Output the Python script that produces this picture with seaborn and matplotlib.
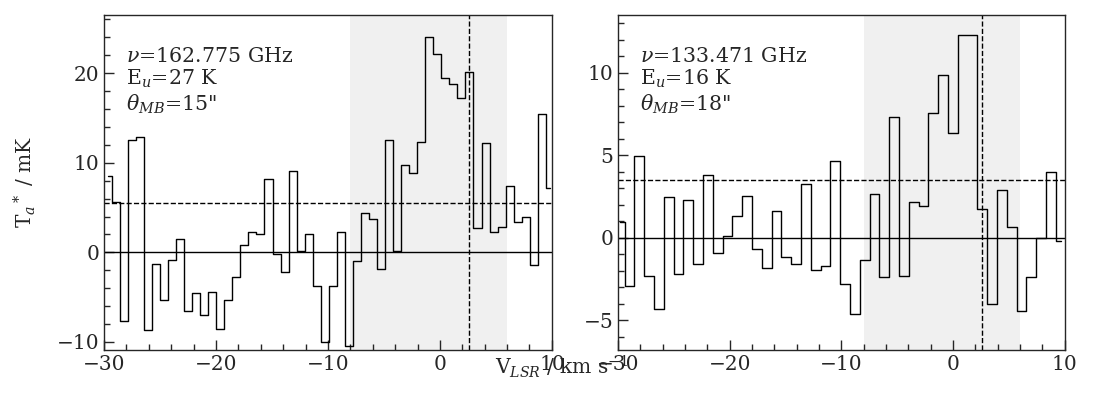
import numpy as np
import pandas as pd
import matplotlib
matplotlib.use('Agg')
import matplotlib.pyplot as plt
import seaborn as sns
from matplotlib.ticker import MultipleLocator

# channel velocities: start + channel width (km/s)
v0_a, dv_a = -29.67, 0.718
v0_b, dv_b = -29.84, 0.877

t_a = [8.55, 5.65, -7.7, 12.5, 12.9, -8.7, -1.3, -5.3, -0.85, 1.5,
       -6.5, -4.5, -7.0, -4.4, -8.6, -5.3, -2.8, 0.85, 2.3, 2.0,
       8.2, -0.2, -2.2, 9.1, 0.1, 2.1, -3.8, -10.0, -3.8, 2.3,
       -10.4, -1.0, 4.4, 3.7, -1.9, 12.6, 0.1, 9.7, 8.9, 12.3,
       24.1, 22.1, 19.5, 18.8, 17.2, 20.1, 2.75, 12.2, 2.3, 2.8,
       7.4, 3.4, 4.0, -1.4, 15.5, 7.2]

t_b = [0.95, -2.92, 4.96, -2.3, -4.33, 2.46, -2.2, 2.32, -1.59, 3.81,
       -0.91, 0.1, 1.29, 2.52, -0.65, -1.81, 1.61, -1.15, -1.59, 3.25,
       -1.98, -1.69, 4.68, -2.8, -4.6, -1.33, 2.66, -2.36, 7.32, -2.3,
       2.14, 1.94, 7.54, 9.88, 6.33, 12.26, 12.28, 1.75, -4.03, 2.92,
       0.67, -4.44, -2.4, 0.0, 4.01, -0.22]

labels_a = ['$\\nu$=162.775 GHz', 'E$_u$=27 K', '$\\theta_{MB}$=15"']
labels_b = ['$\\nu$=133.471 GHz', 'E$_u$=16 K', '$\\theta_{MB}$=18"']

rms3_a = 5.5
rms3_b = 3.5
v_sys = 2.6
window = (-8, 6)

sns.set_style('ticks')
plt.rcParams['font.family'] = ['DejaVu Serif']
plt.rcParams['mathtext.fontset'] = 'dejavuserif'
plt.rcParams['xtick.direction'] = 'in'
plt.rcParams['ytick.direction'] = 'in'

fig = plt.figure(figsize=(10.95, 3.98), dpi=100)
ax1 = fig.add_axes([0.095, 0.1206, 0.409, 0.8417])
ax2 = fig.add_axes([0.5644, 0.1206, 0.408, 0.8417])

panels = [
    (ax1, v0_a, dv_a, t_a, labels_a, rms3_a, (-10.9, 26.5), 10, 2),
    (ax2, v0_b, dv_b, t_b, labels_b, rms3_b, (-6.8, 13.5), 5, 1),
]

for ax, v0, dv, t, lab, rms3, ylim, major, minor in panels:
    df = pd.DataFrame({'v': v0 + dv * np.arange(len(t)), 'T': t})
    ax.axvspan(window[0], window[1], color='#f0f0f0', lw=0, zorder=0)
    sns.lineplot(data=df, x='v', y='T', drawstyle='steps-mid', color='k',
                 lw=1.0, estimator=None, ax=ax)
    ax.axhline(0, color='k', lw=1.0)
    ax.axhline(rms3, color='k', lw=1.0, ls='--')
    ax.axvline(v_sys, color='k', lw=1.0, ls='--')
    ax.set_xlim(-30, 10)
    ax.set_ylim(*ylim)
    ax.xaxis.set_major_locator(MultipleLocator(10))
    ax.xaxis.set_minor_locator(MultipleLocator(2))
    ax.yaxis.set_major_locator(MultipleLocator(major))
    ax.yaxis.set_minor_locator(MultipleLocator(minor))
    ax.tick_params(which='major', length=7, width=1, labelsize=14.5)
    ax.tick_params(which='minor', length=4, width=1)
    ax.set_xlabel('')
    ax.set_ylabel('')
    for s in ax.spines.values():
        s.set_linewidth(1.0)
    ax.text(0.05, 0.905, '\n'.join(lab), transform=ax.transAxes,
            ha='left', va='top', fontsize=14.8, linespacing=1.12)

ax1.set_ylabel('T$_a$$^*$ / mK', fontsize=14.5, labelpad=13)
fig.text(0.513, 0.045, 'V$_{LSR}$ / km s$^{-1}$', ha='center', va='bottom', fontsize=14.5)

fig.savefig('out.png', dpi=100)
